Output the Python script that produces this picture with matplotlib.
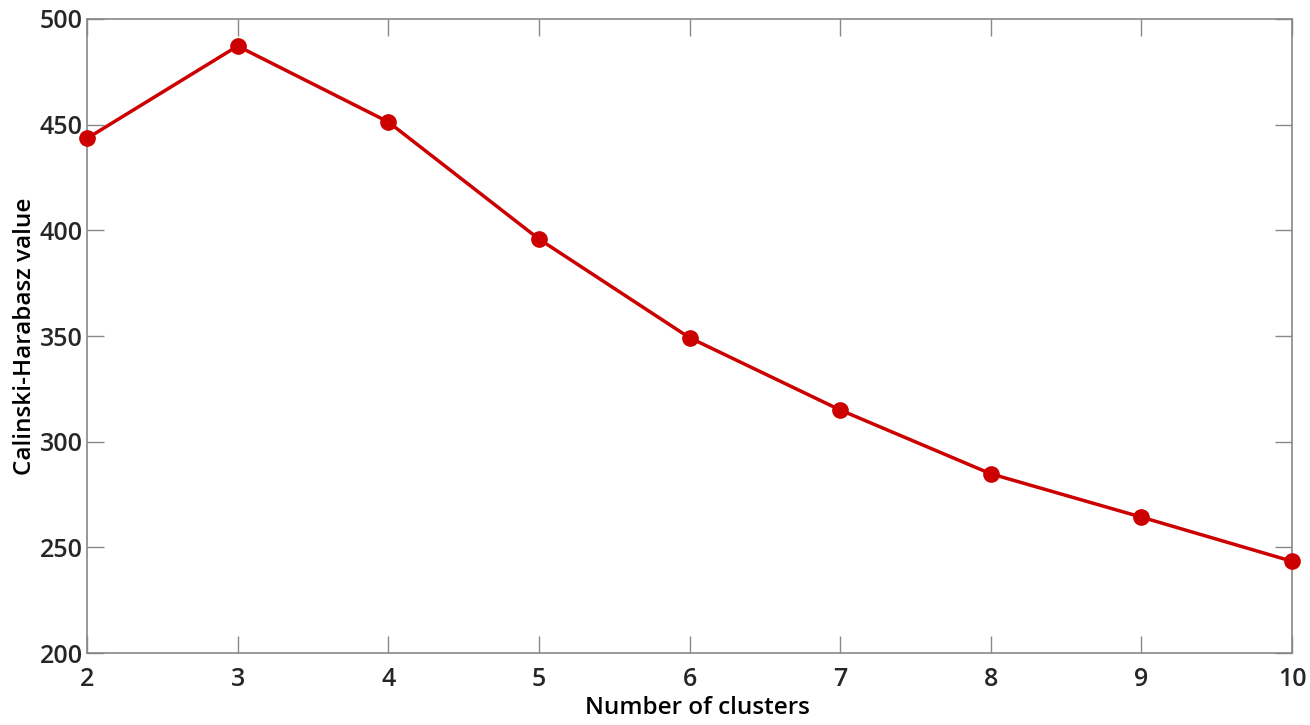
import numpy as np
import matplotlib.pyplot as plt

plt.rcParams['font.family'] = ['Open Sans', 'DejaVu Sans']
plt.rcParams['font.weight'] = 'semibold'
plt.rcParams['text.color'] = '#262626'

clusters = [2, 3, 4, 5, 6, 7, 8, 9, 10]
ch_values = [443.5, 487.2, 451.3, 395.9, 349.2, 315.0, 284.8, 264.3, 243.4]

fig = plt.figure(figsize=(13.1, 7.25), dpi=100)
ax = fig.add_axes([87/1310, 1-653/725, (1292-87)/1310, (653-19)/725])

ax.plot(clusters, ch_values, '-o', color='#cc0000', lw=2.5, ms=11, clip_on=False, zorder=5)

ax.set_xlim(2, 10)
ax.set_ylim(200, 500)
ax.set_xticks(range(2, 11))
ax.set_yticks(range(200, 501, 50))
ax.tick_params(direction='in', length=12, width=1, color='#888888',
               labelcolor='#262626', top=True, right=True, labelsize=18)
ax.tick_params(axis='x', pad=10)
ax.tick_params(axis='y', pad=3)
for s in ax.spines.values():
    s.set_color('#888888')
    s.set_linewidth(1.2)

ax.set_xlabel('Number of clusters', fontsize=17.5, fontweight='semibold', labelpad=3)
ax.xaxis.label.set_x(0.507)
ax.set_ylabel('Calinski-Harabasz value', fontsize=17.5, fontweight='semibold', labelpad=2)

fig.savefig('out.png', dpi=100)
